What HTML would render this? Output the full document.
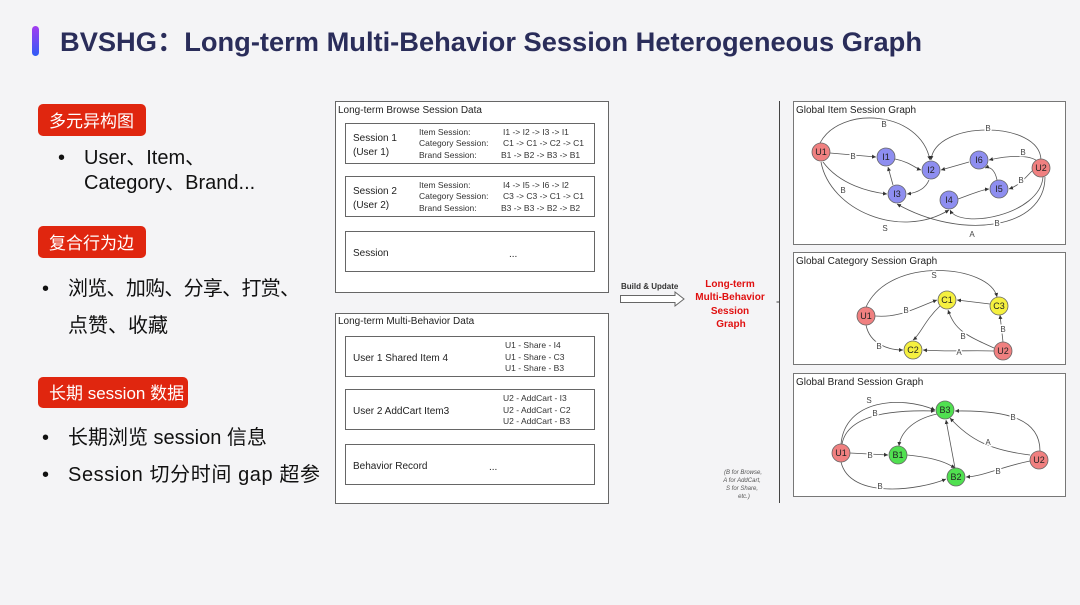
<!DOCTYPE html>
<html><head><meta charset="utf-8"><style>
html,body{margin:0;padding:0;background:#f4f4f6;}
svg{display:block}
.t{font-family:"Liberation Sans","Noto Sans CJK SC",sans-serif}
</style></head><body>
<svg width="1080" height="605" viewBox="0 0 1080 605" xmlns="http://www.w3.org/2000/svg" class="t">
<defs>
<linearGradient id="bar" x1="0" y1="0" x2="0" y2="1"><stop offset="0" stop-color="#a43cf0"/><stop offset="1" stop-color="#2f5cf6"/></linearGradient>
<marker id="ar" markerWidth="6" markerHeight="6" refX="5" refY="3" orient="auto"><path d="M0,0.5 L5,3 L0,5.5 z" fill="#333"/></marker>
</defs>
<rect width="1080" height="605" fill="#f4f4f6"/>
<rect x="32" y="26" width="7" height="30" rx="3.5" fill="url(#bar)"/>
<text x="60" y="51" font-size="27" font-weight="bold" fill="#2a2d5a" textLength="862" lengthAdjust="spacingAndGlyphs">BVSHG：Long-term Multi-Behavior Session Heterogeneous Graph</text>

<g font-size="17" fill="#fff">
<rect x="38" y="104" width="108" height="32" rx="5" fill="#e0260f"/><text x="49" y="127">多元异构图</text>
<rect x="38" y="226" width="108" height="32" rx="5" fill="#e0260f"/><text x="49" y="249">复合行为边</text>
<rect x="38" y="377" width="150" height="31" rx="5" fill="#e0260f"/><text x="49" y="399">长期 session 数据</text>
</g>
<g font-size="20" fill="#111">
<text x="58" y="164">•</text><text x="84" y="164">User、Item、</text>
<text x="84" y="189">Category、Brand...</text>
<text x="42" y="295">•</text><text x="68" y="295" textLength="232">浏览、加购、分享、打赏、</text>
<text x="68" y="332">点赞、收藏</text>
<text x="42" y="444">•</text><text x="68" y="444">长期浏览 session 信息</text>
<text x="42" y="481">•</text><text x="68" y="481" textLength="252">Session 切分时间 gap 超参</text>
</g>

<g fill="#fff" stroke="#666" stroke-width="1">
<rect x="335.5" y="101.5" width="273" height="191"/>
<rect x="345.5" y="123.5" width="249" height="40"/>
<rect x="345.5" y="176.5" width="249" height="40"/>
<rect x="345.5" y="231.5" width="249" height="40"/>
<rect x="335.5" y="313.5" width="273" height="190"/>
<rect x="345.5" y="336.5" width="249" height="40"/>
<rect x="345.5" y="389.5" width="249" height="40"/>
<rect x="345.5" y="444.5" width="249" height="40"/>
</g>
<g fill="#222" font-size="10">
<text x="338" y="113">Long-term Browse Session Data</text>
<text x="353" y="141">Session 1</text><text x="353" y="155">(User 1)</text>
<text x="353" y="194">Session 2</text><text x="353" y="208">(User 2)</text>
<text x="353" y="256">Session</text><text x="509" y="257">...</text>
<g font-size="8.5" fill="#333">
<text x="419" y="135">Item Session:</text><text x="503" y="135">I1 -&gt; I2 -&gt; I3 -&gt; I1</text>
<text x="419" y="146">Category Session:</text><text x="503" y="146">C1 -&gt; C1 -&gt; C2 -&gt; C1</text>
<text x="419" y="158">Brand Session:</text><text x="501" y="158">B1 -&gt; B2 -&gt; B3 -&gt; B1</text>
<text x="419" y="188">Item Session:</text><text x="503" y="188">I4 -&gt; I5 -&gt; I6 -&gt; I2</text>
<text x="419" y="199">Category Session:</text><text x="503" y="199">C3 -&gt; C3 -&gt; C1 -&gt; C1</text>
<text x="419" y="211">Brand Session:</text><text x="501" y="211">B3 -&gt; B3 -&gt; B2 -&gt; B2</text>
</g>
<text x="338" y="324">Long-term Multi-Behavior Data</text>
<text x="353" y="361">User 1 Shared Item 4</text>
<text x="353" y="414">User 2 AddCart Item3</text>
<text x="353" y="469">Behavior Record</text><text x="489" y="470">...</text>
<g font-size="8.5" fill="#333">
<text x="505" y="348">U1 - Share - I4</text><text x="505" y="360">U1 - Share - C3</text><text x="505" y="371">U1 - Share - B3</text>
<text x="503" y="401">U2 - AddCart - I3</text><text x="503" y="413">U2 - AddCart - C2</text><text x="503" y="424">U2 - AddCart - B3</text>
</g>
</g>

<text x="621" y="289" font-size="8" fill="#333" font-weight="bold">Build &amp; Update</text>
<path d="M620.5,295.5 H675 V292 L684,299 L675,306 V302.5 H620.5 Z" fill="#fff" stroke="#666"/>
<g fill="#e01010" font-size="10" font-weight="bold" text-anchor="middle">
<text x="730" y="287">Long-term</text><text x="730" y="300">Multi-Behavior</text><text x="730" y="314">Session</text><text x="731" y="327">Graph</text>
</g>
<g fill="#555" font-size="6" font-style="italic" text-anchor="middle">
<text x="743" y="474">(B for Browse,</text><text x="742" y="482">A for AddCart,</text><text x="742" y="490">S for Share,</text><text x="744" y="498">etc.)</text>
</g>
<path d="M779.5,101 V503 M779.5,302 h-3" stroke="#444" fill="none"/>

<g fill="#fff" stroke="#777">
<rect x="793.5" y="101.5" width="272" height="143"/>
<rect x="793.5" y="252.5" width="272" height="112"/>
<rect x="793.5" y="373.5" width="272" height="123"/>
</g>
<g font-size="10" fill="#222">
<text x="796" y="113">Global Item Session Graph</text>
<text x="796" y="264">Global Category Session Graph</text>
<text x="796" y="385">Global Brand Session Graph</text>
</g>

<g fill="none" stroke="#555" stroke-width="0.8" marker-end="url(#ar)">
<path d="M830,153 L876,157"/>
<path d="M820,143 C840,105 920,110 930,160"/>
<path d="M823,162 C840,185 870,192 887,194"/>
<path d="M893,185 L888,167"/>
<path d="M895,159 C910,162 915,168 921,170"/>
<path d="M929,180 C925,190 915,193 907,194"/>
<path d="M969,162 L941,170"/>
<path d="M1041,160 C1040,120 935,120 931,160"/>
<path d="M1037,161 C1030,155 1010,155 989,160"/>
<path d="M1032,171 C1025,178 1020,185 1009,189"/>
<path d="M997,180 C995,170 990,166 985,168"/>
<path d="M958,199 C970,195 980,190 989,189"/>
<path d="M821,162 C830,210 900,240 949,210"/>
<path d="M1045,177 C1045,230 960,240 897,204"/>
<path d="M1043,177 C1040,215 960,230 950,210"/>
<path d="M875,316 C900,318 915,308 937,300"/>
<path d="M866,307 C890,255 990,265 997,297"/>
<path d="M866,325 C870,345 890,350 903,350"/>
<path d="M940,306 C925,320 920,335 913,340"/>
<path d="M990,304 L957,300"/>
<path d="M1003,342 L1000,315"/>
<path d="M994,348 C965,335 955,330 948,310"/>
<path d="M994,351 C970,350 950,352 923,350"/>
<path d="M850,453 L888,455"/>
<path d="M841,444 C845,400 900,395 935,410"/>
<path d="M842,444 C848,412 900,410 935,411"/>
<path d="M841,462 C850,500 920,490 946,479"/>
<path d="M907,455 C940,458 950,465 955,468"/>
<path d="M937,414 C910,420 900,435 899,446"/>
<path d="M955,468 L946,420"/>
<path d="M1030,461 C1000,467 985,476 966,477"/>
<path d="M1030,455 C990,450 970,440 950,418"/>
<path d="M1040,451 C1040,420 1010,410 955,411"/>
</g>
<g font-size="8" fill="#444" text-anchor="middle">
<g style="paint-order:stroke" stroke="#fff" stroke-width="3">
<text x="853" y="159">B</text><text x="884" y="127">B</text><text x="843" y="193">B</text><text x="988" y="131">B</text>
<text x="1023" y="155">B</text><text x="1021" y="183">B</text><text x="885" y="231">S</text><text x="972" y="237">A</text><text x="997" y="226">B</text>
<text x="906" y="313">B</text><text x="934" y="278">S</text><text x="879" y="349">B</text><text x="1003" y="332">B</text><text x="963" y="339">B</text><text x="959" y="355">A</text>
<text x="869" y="403">S</text><text x="875" y="416">B</text><text x="870" y="458">B</text><text x="880" y="489">B</text>
<text x="1013" y="420">B</text><text x="988" y="445">A</text><text x="998" y="474">B</text>
</g></g>
<g stroke="#666" stroke-width="0.8" font-size="9" text-anchor="middle">
<g fill="#f08080"><circle cx="821" cy="152" r="9"/><circle cx="1041" cy="168" r="9"/><circle cx="866" cy="316" r="9"/><circle cx="1003" cy="351" r="9"/><circle cx="841" cy="453" r="9"/><circle cx="1039" cy="460" r="9"/></g>
<g fill="#8e8ef0"><circle cx="886" cy="157" r="9"/><circle cx="931" cy="170" r="9"/><circle cx="897" cy="194" r="9"/><circle cx="949" cy="200" r="9"/><circle cx="999" cy="189" r="9"/><circle cx="979" cy="160" r="9"/></g>
<g fill="#f5f040"><circle cx="947" cy="300" r="9"/><circle cx="999" cy="306" r="9"/><circle cx="913" cy="350" r="9"/></g>
<g fill="#50e050"><circle cx="898" cy="455" r="9"/><circle cx="945" cy="410" r="9"/><circle cx="956" cy="477" r="9"/></g>
<g fill="#222" stroke="none">
<text x="821" y="155">U1</text><text x="1041" y="171">U2</text><text x="866" y="319">U1</text><text x="1003" y="354">U2</text><text x="841" y="456">U1</text><text x="1039" y="463">U2</text>
<text x="886" y="160">I1</text><text x="931" y="173">I2</text><text x="897" y="197">I3</text><text x="949" y="203">I4</text><text x="999" y="192">I5</text><text x="979" y="163">I6</text>
<text x="947" y="303">C1</text><text x="999" y="309">C3</text><text x="913" y="353">C2</text>
<text x="898" y="458">B1</text><text x="945" y="413">B3</text><text x="956" y="480">B2</text>
</g></g>
</svg>
</body></html>
